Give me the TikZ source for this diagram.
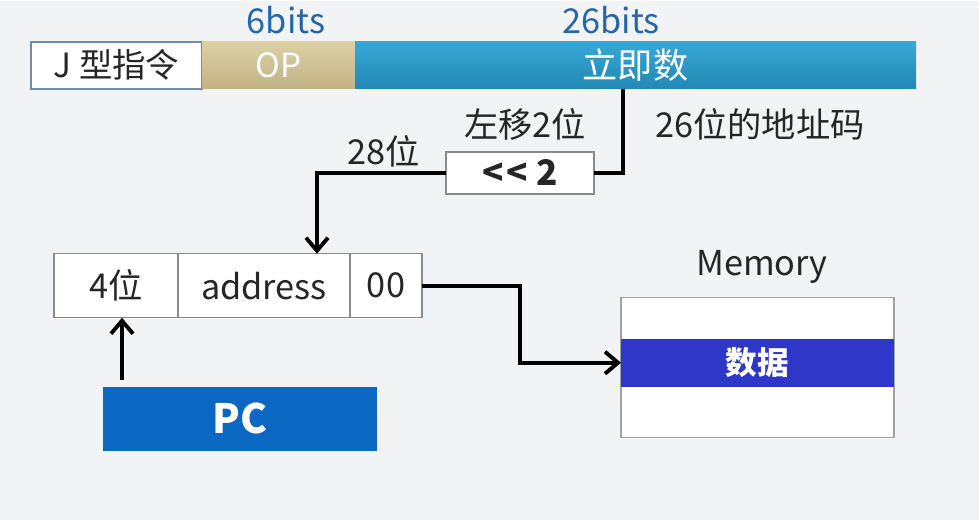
\documentclass[tikz,border=0pt]{standalone}
\usepackage{fontspec}
\setmainfont{Noto Sans CJK SC}
\usepackage{tikz}
\usetikzlibrary{arrows.meta,positioning,calc}
\definecolor{bgpage}{HTML}{F2F3F5}
\definecolor{inkgray}{HTML}{262626}
\definecolor{bitsblue}{HTML}{2566A8}
\definecolor{opbrown}{HTML}{D6C795}
\definecolor{immblue}{HTML}{27A0D3}
\definecolor{pcblue}{HTML}{0A67C2}
\definecolor{datablue}{HTML}{2F37C9}
\definecolor{edgegray}{HTML}{8A8A8A}
\definecolor{jedge}{HTML}{6E8CAC}
\begin{document}
\begin{tikzpicture}[x=0.2mm, y=-0.2mm, >={Straight Barb[length=2.6mm,width=4.4mm]},
  field/.style={minimum height=0.94cm, inner sep=0pt, outer sep=0pt, font=\fontsize{19}{21}\selectfont},
  cell/.style={draw=edgegray, line width=0.8pt, fill=white, minimum height=1.28cm, inner sep=0pt, outer sep=0pt, text=inkgray, font=\fontsize{19.5}{21}\selectfont},
  lab/.style={text=inkgray, font=\fontsize{19.5}{21}\selectfont},
  bits/.style={text=bitsblue, font=\fontsize{19.5}{21}\selectfont},
  wire/.style={line width=2.2pt, black}]
\fill[bgpage] (0,0) rectangle (979,519);
% instruction format
\node[field, draw=jedge, line width=0.9pt, fill=white, minimum width=3.42cm, text=inkgray] (J) at (116.5,64.5) {J 型指令};
\node[field, top color=opbrown!85!white, bottom color=opbrown!90!black, minimum width=3.06cm, text=white] (OP) at (278.5,64.5) {OP};
\node[field, top color=immblue!92!white, bottom color=immblue!85!black, minimum width=11.22cm, text=white, font=\fontsize{20}{22}\selectfont] (IMM) at (635.5,64.5) {立即数};
\node[bits] (B6) at (286,19) {6bits};
\node[bits] (B26) at (611,19) {26bits};
% shifter
\node[cell, line width=0.9pt, minimum width=2.96cm, minimum height=0.84cm, font=\bfseries\fontsize{20}{22}\selectfont] (SH) at (520,172) {<\hspace{1.5pt}<\ 2};
\node[lab] (SHL) at (525,124) {左移2位};
\node[lab] (ADRL) at (760,124) {26位的地址码};
\node[lab] (W28) at (384,151) {28位};
% target address
\node[cell, minimum width=2.48cm] (HI) at (116,285) {4位};
\node[cell, minimum width=3.44cm] (ADR) at (264,285) {address};
\node[cell, minimum width=1.44cm] (LO) at (386,285) {00};
% pc
\node[fill=pcblue, minimum width=5.48cm, minimum height=1.28cm, inner sep=0pt, outer sep=0pt, text=white, font=\bfseries\fontsize{23}{25}\selectfont] (PC) at (240,418) {PC};
% memory
\node[draw=edgegray!80, line width=0.8pt, fill=white, minimum width=5.46cm, minimum height=2.8cm, inner sep=0pt, outer sep=0pt] (MEM) at (757.5,367) {};
\node[fill=datablue, minimum width=5.46cm, minimum height=0.96cm, inner sep=0pt, outer sep=0pt, text=white, font=\bfseries\fontsize{18}{20}\selectfont] (DATA) at (757.5,362) {数据};
\node[lab] (MEML) at (762,266) {Memory};
% wires
\draw[wire] ([xshift=-0.25cm]IMM.south) |- (SH.east);
\draw[wire, ->] (SH.west) -| ([xshift=1.06cm]ADR.north);
\draw[wire, ->] ([xshift=0.12cm]HI.south |- PC.north) ++(0,-7) -- ([xshift=0.12cm]HI.south);
\draw[wire, ->] (LO.east) -- ++(98,0) |- (DATA.west);
\end{tikzpicture}
\end{document}
